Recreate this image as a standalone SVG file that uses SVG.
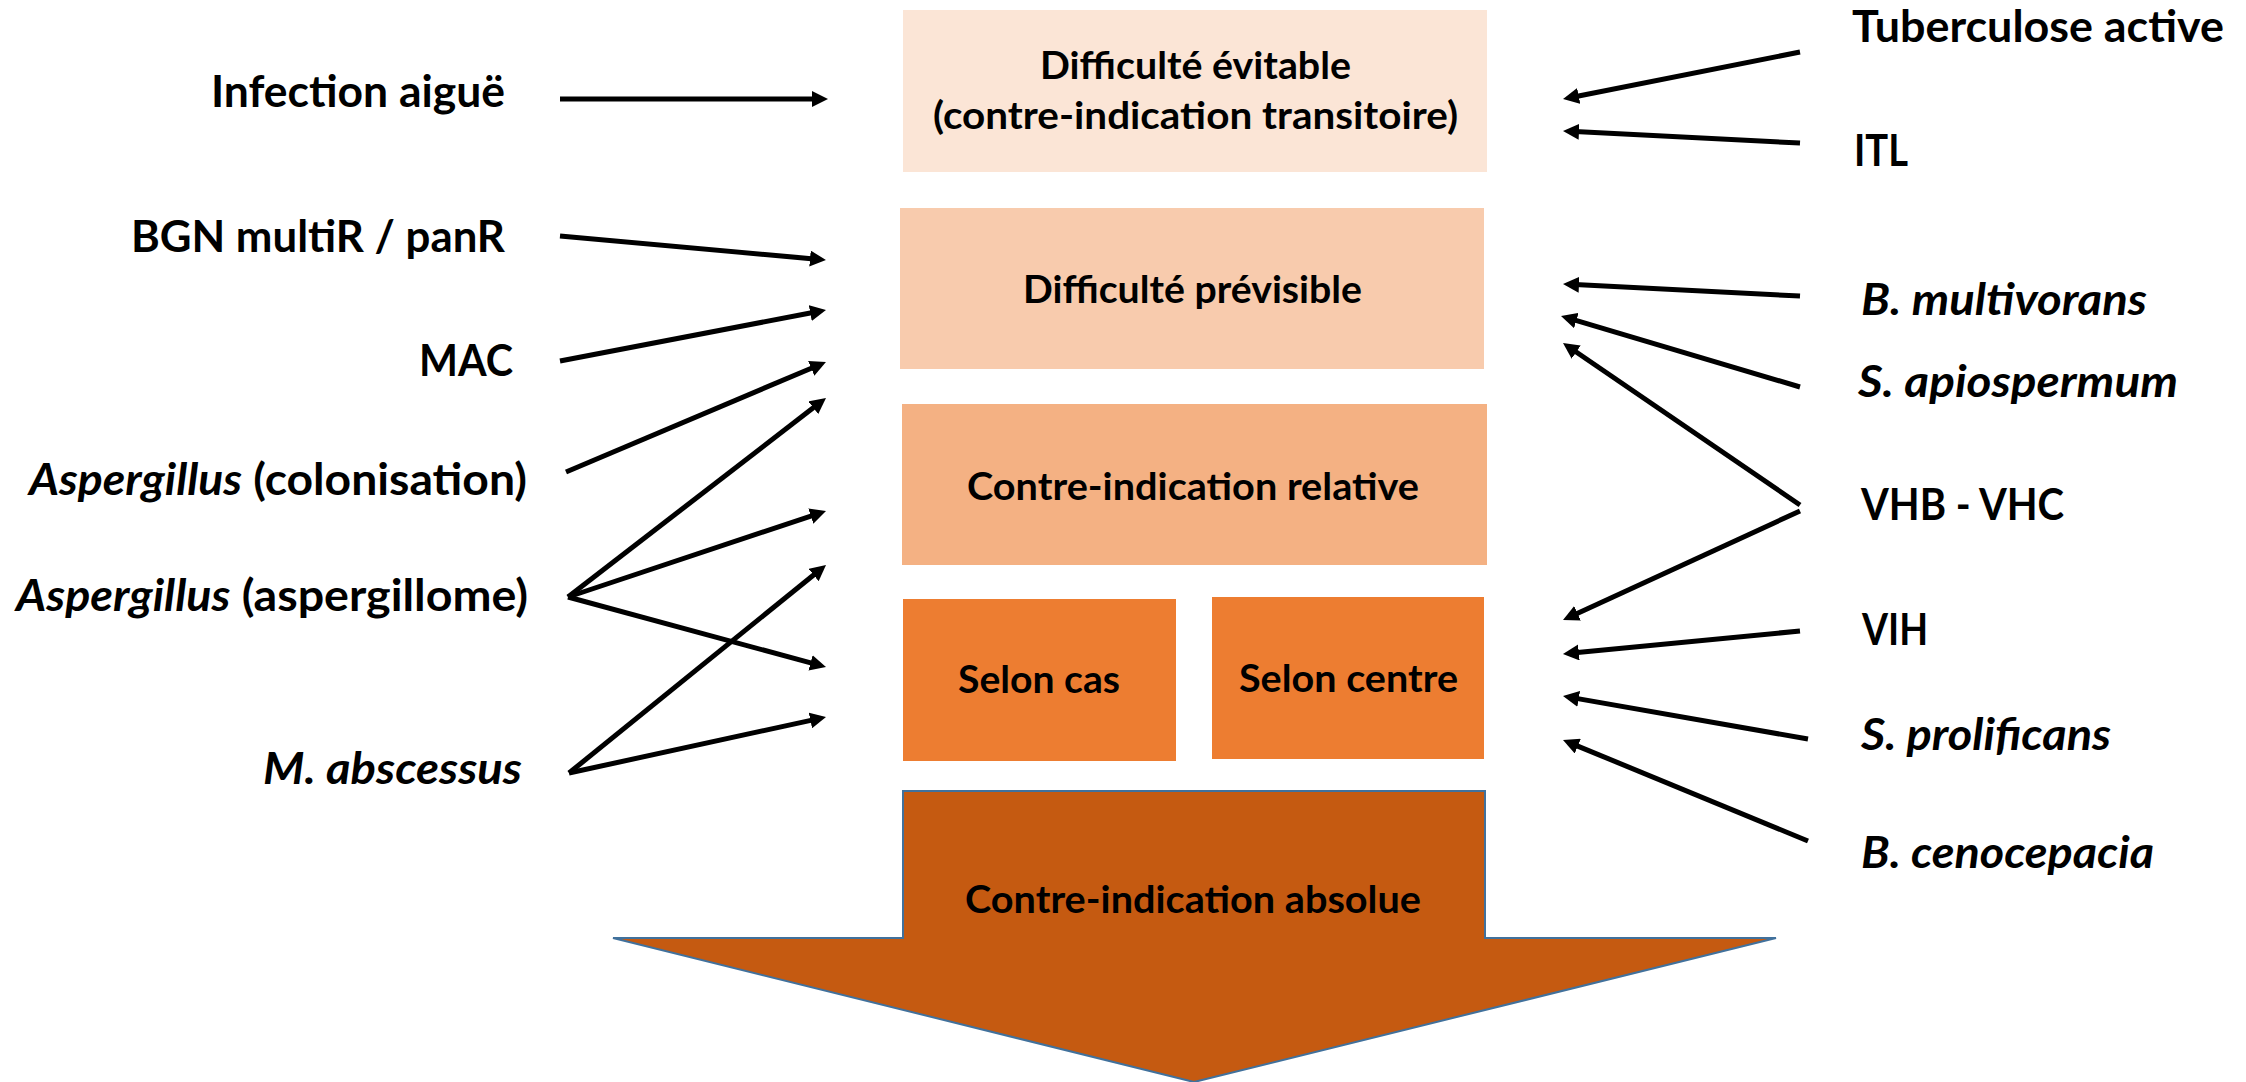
<svg xmlns="http://www.w3.org/2000/svg" width="2246" height="1082" viewBox="0 0 2246 1082">
<style>
  text { font-family: Lato, "Open Sans", "Liberation Sans", sans-serif; font-weight: bold; fill: #000; }
  .lbl { font-size: 44px; }
  .box { font-size: 38px; }
  .it { font-style: italic; }
  .conn line { stroke: #000; stroke-width: 5; marker-end: url(#ah); }
</style>
<defs>
  <marker id="ah" markerUnits="userSpaceOnUse" markerWidth="16" markerHeight="16" viewBox="0 0 16 16" refX="4" refY="8" orient="auto">
    <path d="M0,0 L16,8 L0,16 z" fill="#000"/>
  </marker>
</defs>
<rect width="2246" height="1082" fill="#fff"/>

<g id="n-evitable">
  <rect x="903" y="10" width="584" height="162" fill="#FBE5D6"/>
  <text class="box" x="1040" y="79" textLength="311" lengthAdjust="spacingAndGlyphs">Difficulté évitable</text>
  <text class="box" x="933" y="129" textLength="525" lengthAdjust="spacingAndGlyphs">(contre-indication transitoire)</text>
</g>
<g id="n-previsible">
  <rect x="900" y="208" width="584" height="161" fill="#F8CBAD"/>
  <text class="box" x="1023" y="303" textLength="339" lengthAdjust="spacingAndGlyphs">Difficulté prévisible</text>
</g>
<g id="n-relative">
  <rect x="902" y="404" width="585" height="161" fill="#F4B183"/>
  <text class="box" x="967" y="500" textLength="452" lengthAdjust="spacingAndGlyphs">Contre-indication relative</text>
</g>
<g id="n-selon-cas">
  <rect x="903" y="599" width="273" height="162" fill="#ED7D31"/>
  <text class="box" x="958" y="693" textLength="162" lengthAdjust="spacingAndGlyphs">Selon cas</text>
</g>
<g id="n-selon-centre">
  <rect x="1212" y="597" width="272" height="162" fill="#ED7D31"/>
  <text class="box" x="1239" y="692" textLength="219" lengthAdjust="spacingAndGlyphs">Selon centre</text>
</g>
<g id="n-absolue">
  <polygon points="903,791 1485,791 1485,938 1776,938 1194,1082 613,938 903,938" fill="#C55A11" stroke="#41719C" stroke-width="2"/>
  <text class="box" x="965" y="913" textLength="456" lengthAdjust="spacingAndGlyphs">Contre-indication absolue</text>
</g>

<g id="n-infection"><text class="lbl" x="211" y="107" textLength="294" lengthAdjust="spacingAndGlyphs">Infection aiguë</text></g>
<g id="n-bgn"><text class="lbl" x="131" y="252" textLength="374" lengthAdjust="spacingAndGlyphs">BGN multiR / panR</text></g>
<g id="n-mac"><text class="lbl" x="419" y="376" textLength="94" lengthAdjust="spacingAndGlyphs">MAC</text></g>
<g id="n-asp-colo"><text class="lbl" x="29" y="495" textLength="498" lengthAdjust="spacingAndGlyphs"><tspan class="it">Aspergillus</tspan> (colonisation)</text></g>
<g id="n-asp-aspergillome"><text class="lbl" x="16" y="611" textLength="512" lengthAdjust="spacingAndGlyphs"><tspan class="it">Aspergillus</tspan> (aspergillome)</text></g>
<g id="n-mabscessus"><text class="lbl it" x="263" y="784" textLength="259" lengthAdjust="spacingAndGlyphs">M. abscessus</text></g>

<g id="n-tuberculose"><text class="lbl" x="1852" y="42" textLength="372" lengthAdjust="spacingAndGlyphs">Tuberculose active</text></g>
<g id="n-itl"><text class="lbl" x="1854" y="166" textLength="54" lengthAdjust="spacingAndGlyphs">ITL</text></g>
<g id="n-bmultivorans"><text class="lbl it" x="1861" y="315" textLength="286" lengthAdjust="spacingAndGlyphs">B. multivorans</text></g>
<g id="n-sapiospermum"><text class="lbl it" x="1858" y="397" textLength="320" lengthAdjust="spacingAndGlyphs">S. apiospermum</text></g>
<g id="n-vhb"><text class="lbl" x="1861" y="520" textLength="203" lengthAdjust="spacingAndGlyphs">VHB - VHC</text></g>
<g id="n-vih"><text class="lbl" x="1862" y="645" textLength="66" lengthAdjust="spacingAndGlyphs">VIH</text></g>
<g id="n-sprolificans"><text class="lbl it" x="1861" y="750" textLength="250" lengthAdjust="spacingAndGlyphs">S. prolificans</text></g>
<g id="n-bcenocepacia"><text class="lbl it" x="1861" y="868" textLength="293" lengthAdjust="spacingAndGlyphs">B. cenocepacia</text></g>

<g id="connectors" class="conn">
  <line x1="560" y1="99" x2="816" y2="99"/>
  <line x1="560" y1="236" x2="814" y2="258.9"/>
  <line x1="560" y1="361" x2="814.2" y2="312.3"/>
  <line x1="566" y1="472" x2="814.9" y2="366.7"/>
  <line x1="568" y1="597" x2="816.5" y2="405.3"/>
  <line x1="568" y1="597" x2="814.6" y2="514.8"/>
  <line x1="568" y1="597" x2="814.4" y2="663.9"/>
  <line x1="569" y1="773" x2="816.7" y2="572.5"/>
  <line x1="569" y1="773" x2="814.3" y2="719.6"/>
  <line x1="1800" y1="52" x2="1574.8" y2="96.7"/>
  <line x1="1800" y1="143" x2="1575" y2="131.6"/>
  <line x1="1800" y1="296" x2="1575" y2="284.6"/>
  <line x1="1800" y1="387" x2="1572.5" y2="319.4"/>
  <line x1="1800" y1="505" x2="1572.9" y2="349.8"/>
  <line x1="1800" y1="511" x2="1573.9" y2="615"/>
  <line x1="1800" y1="631" x2="1574.9" y2="652.8"/>
  <line x1="1808" y1="739" x2="1574.8" y2="698.1"/>
  <line x1="1808" y1="841" x2="1574.1" y2="744.6"/>
</g>
</svg>
